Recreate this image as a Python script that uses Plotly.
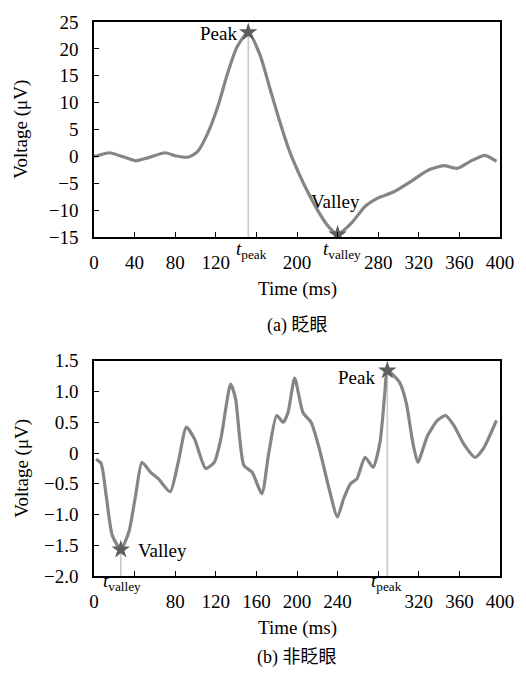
import plotly.graph_objects as go
from plotly.subplots import make_subplots

# ---- data (a) 眨眼 ----
t_blink = [0, 2, 15, 28, 41, 54, 70, 81, 93, 102, 112, 122, 131.5, 141, 152, 163.7, 173.4, 183, 192.8,
           202.5, 212, 221, 230, 240, 254, 267, 280, 296, 312.5, 328.6, 344.8, 357.7, 370.7, 385, 396.5]
v_blink = [0.1, 0.1, 0.7, 0, -0.8, -0.2, 0.7, 0.1, -0.1, 0.9, 4.3, 9.3, 15.4, 20.4, 23.1, 18.8, 12.6, 6.5, 0.9,
           -3.4, -7.1, -10.2, -12.8, -14.5, -12.3, -9.3, -7.7, -6.5, -4.6, -2.6, -1.7, -2.2, -0.9, 0.2, -0.9]
peak_a = (152, 23.1)
valley_a = (240, -14.5)

# ---- data (b) 非眨眼 ----
t_non = [2, 7, 12, 18, 26.4, 34.4, 41, 47.3, 55.5, 63.5, 75, 83, 91, 99, 110, 118.5, 125, 134.6, 139.5,
         147.6, 155.7, 165.4, 171.8, 180, 186.4, 191.2, 197.7, 205.8, 213.9, 222, 231.6, 239.8, 246,
         252.7, 259, 267, 275, 281.8, 286.6, 289, 301, 307.6, 314, 319, 328.6, 338.3, 346.4, 354.5,
         364.2, 375.5, 383.6, 396.5]
v_non = [-0.1, -0.17, -0.69, -1.34, -1.57, -1.28, -0.69, -0.15, -0.31, -0.42, -0.63, -0.15, 0.42, 0.23,
         -0.25, -0.15, 0.23, 1.12, 0.88, -0.2, -0.31, -0.66, -0.04, 0.61, 0.5, 0.66, 1.22, 0.66, 0.5, 0.07,
         -0.58, -1.04, -0.74, -0.5, -0.42, -0.07, -0.23, 0.18, 0.99, 1.34, 1.15, 0.82, 0.18, -0.15, 0.28,
         0.53, 0.61, 0.45, 0.15, -0.07, 0.07, 0.53]
peak_b = (289, 1.34)
valley_b = (26.4, -1.57)

x_ticks_a = [0, 40, 80, 120, 200, 280, 320, 360, 400]
x_ticks_b = [0, 80, 120, 160, 200, 240, 320, 360, 400]
y_ticks_a = [25, 20, 15, 10, 5, 0, -5, -10, -15]
y_text_a = ["25", "20", "15", "10", "5", "0", "\u22125", "\u221210", "\u221215"]
y_ticks_b = [1.5, 1.0, 0.5, 0, -0.5, -1.0, -1.5, -2.0]
y_text_b = ["1.5", "1.0", "0.5", "0", "\u22120.5", "\u22121.0", "\u22121.5", "\u22122.0"]

SERIF = "Liberation Serif"
CURVE = "#858585"
VLINE = "#c9c9c9"
STAR = "#5e5e5e"
FS = 19

fig = make_subplots(rows=2, cols=1, vertical_spacing=0.0)

def add_panel(row, t, v, peak, valley, ymin):
    for (px, py) in (peak, valley):
        fig.add_trace(go.Scatter(x=[px, px], y=[py, ymin], mode="lines",
                                 line=dict(color=VLINE, width=1.6), showlegend=False,
                                 hoverinfo="skip"), row=row, col=1)
    fig.add_trace(go.Scatter(x=t, y=v, mode="lines",
                             line=dict(color=CURVE, width=3.2, shape="spline", smoothing=0.6),
                             showlegend=False), row=row, col=1)
    fig.add_trace(go.Scatter(x=[peak[0], valley[0]], y=[peak[1], valley[1]], mode="markers",
                             marker=dict(symbol="star", size=14, color=STAR),
                             showlegend=False), row=row, col=1)

add_panel(1, t_blink, v_blink, peak_a, valley_a, -15)
add_panel(2, t_non, v_non, peak_b, valley_b, -2.0)

axis_common = dict(showgrid=False, zeroline=False, showline=True, mirror=True,
                   linecolor="black", linewidth=1.5, ticks="inside", ticklen=5,
                   tickwidth=1.2, tickcolor="black",
                   tickfont=dict(family=SERIF, size=FS, color="black"))
minor_x = dict(tick0=0, dtick=40, ticks="inside", ticklen=5, tickwidth=1.2,
               tickcolor="black", showgrid=False)

fig.update_xaxes(**axis_common, range=[0, 400], tickvals=x_ticks_a, minor=minor_x,
                 ticklabelstandoff=7, row=1, col=1)
fig.update_xaxes(**axis_common, range=[0, 400], tickvals=x_ticks_b, minor=minor_x,
                 ticklabelstandoff=7, row=2, col=1)
fig.update_yaxes(**axis_common, range=[-15, 25], tickvals=y_ticks_a, ticktext=y_text_a,
                 ticklabelstandoff=10, domain=[0.6115, 1.0], row=1, col=1)
fig.update_yaxes(**axis_common, range=[-2.0, 1.5], tickvals=y_ticks_b, ticktext=y_text_b,
                 ticklabelstandoff=10, domain=[0.0, 0.3885], row=2, col=1)

f16 = dict(family=SERIF, size=FS, color="black")
ann = []
# point labels
ann.append(dict(x=peak_a[0] - 9, y=peak_a[1] - 0.2, xref="x", yref="y", text="Peak",
                xanchor="right", yanchor="middle", showarrow=False, font=f16))
ann.append(dict(x=238, y=-8.3, xref="x", yref="y", text="Valley",
                xanchor="center", yanchor="middle", showarrow=False, font=f16))
ann.append(dict(x=peak_b[0] - 10, y=1.23, xref="x2", yref="y2", text="Peak",
                xanchor="right", yanchor="middle", showarrow=False, font=f16))
ann.append(dict(x=41, y=-1.58, xref="x2", yref="y2", text="Valley",
                xanchor="left", yanchor="middle", showarrow=False, font=f16))
# t labels on x axes
tl = "<i>t</i><sub>peak</sub>"
tv = "<i>t</i><sub>valley</sub>"
ann.append(dict(x=155, y=0.588, xref="x", yref="paper", text=tl, xanchor="center",
                yanchor="middle", showarrow=False, font=f16))
ann.append(dict(x=244, y=0.588, xref="x", yref="paper", text=tv, xanchor="center",
                yanchor="middle", showarrow=False, font=f16))
ann.append(dict(x=28, y=-0.01, xref="x2", yref="paper", text=tv, xanchor="center",
                yanchor="middle", showarrow=False, font=f16))
ann.append(dict(x=288, y=-0.01, xref="x2", yref="paper", text=tl, xanchor="center",
                yanchor="middle", showarrow=False, font=f16))
# axis titles
for yc in (0.806, 0.194):
    ann.append(dict(x=-0.179, y=yc, xref="paper", yref="paper", text="Voltage (\u03bcV)",
                    textangle=-90, xanchor="center", yanchor="middle", showarrow=False, font=f16))
for yc in (0.518, -0.0935):
    ann.append(dict(x=0.5, y=yc, xref="paper", yref="paper", text="Time (ms)",
                    xanchor="center", yanchor="middle", showarrow=False, font=f16))
cap_font = dict(family="Liberation Serif, Noto Sans CJK SC", size=18, color="black")
ann.append(dict(x=0.5, y=0.453, xref="paper", yref="paper", text="(a) 眨眼",
                xanchor="center", yanchor="middle", showarrow=False, font=cap_font))
ann.append(dict(x=0.5, y=-0.1475, xref="paper", yref="paper", text="(b) 非眨眼",
                xanchor="center", yanchor="middle", showarrow=False, font=cap_font))

fig.update_layout(width=526, height=675, margin=dict(l=94, r=19, t=20, b=99),
                  plot_bgcolor="white", paper_bgcolor="white", annotations=ann,
                  showlegend=False)

fig.write_html("out.html", config={"displayModeBar": False},
               post_script="document.body.style.margin='0';")
